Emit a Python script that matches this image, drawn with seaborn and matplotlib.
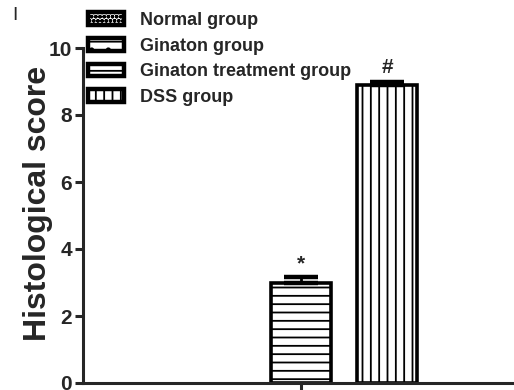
import matplotlib
matplotlib.use('Agg')
import matplotlib.pyplot as plt
import seaborn as sns
import pandas as pd

# ── Data ─────────────────────────────────────────────────────────────────────
groups = ['Normal group', 'Ginaton group', 'Ginaton treatment group', 'DSS group']
scores = [0.0, 0.0, 3.0, 8.9]
sem = [0.0, 0.0, 0.16, 0.1]
marks = ['', '', '*', '#']
hatches = ['oooo', '.-', '--', '||']
y_ticks = [0, 2, 4, 6, 8, 10]

df = pd.DataFrame({'cat': [''] * len(groups), 'Group': groups, 'Score': scores})

sns.set_style('ticks')
plt.rcParams['font.family'] = ['Liberation Sans', 'DejaVu Sans']
plt.rcParams['hatch.linewidth'] = 1.3
plt.rcParams['hatch.color'] = '#333333'

fig = plt.figure(figsize=(5.14, 3.90), dpi=100)
ax = fig.add_axes([83 / 514, 7 / 390, 1 - 83 / 514, 335 / 390])

sns.barplot(data=df, x='cat', y='Score', hue='Group', hue_order=groups,
            palette=['white'] * 4, edgecolor='black', linewidth=2.6,
            gap=0.3, errorbar=None, legend=True, ax=ax)

# hatches + error bars + significance marks
for cont, h, val, err, mk in zip(ax.containers, hatches, scores, sem, marks):
    for bar in cont:
        bar.set_hatch(h)
        cx = bar.get_x() + bar.get_width() / 2
        if val > 0:
            ax.errorbar(cx, val, yerr=[[0], [err]], fmt='none', ecolor='black',
                        elinewidth=2, capsize=12, capthick=3.2, zorder=3)
            ax.text(cx, val + err + 0.12, mk, ha='center', va='bottom',
                    fontsize=15, fontweight='bold')
        else:
            bar.set_visible(False)

# the single x tick sits under the treatment bar
tb = ax.containers[2][0]
ax.set_xticks([tb.get_x() + tb.get_width() / 2])
ax.set_xticklabels([''])
ax.set_xlim(-0.407, 0.595)

ax.set_ylim(0, 10)
ax.set_yticks(y_ticks)
ax.set_yticklabels([str(t) for t in y_ticks], fontsize=15, fontweight='bold')
ax.set_xlabel('')
ax.set_ylabel('Histological score', fontsize=23, fontweight='bold')
ax.yaxis.set_label_coords(-30 / 431, 0.535)

sns.despine(ax=ax)
for s in ['left', 'bottom']:
    ax.spines[s].set_linewidth(2.2)
ax.tick_params(axis='both', width=2.2, length=6, direction='out', pad=2)

leg = ax.legend(loc='upper left', bbox_to_anchor=(88 / 514, 1 - 12 / 390),
                bbox_transform=fig.transFigure, frameon=False,
                prop={'size': 13, 'weight': 'bold'}, handlelength=2.0,
                handleheight=0.7, labelspacing=0.48, handletextpad=0.9,
                borderpad=0, borderaxespad=0)
for p, h in zip(leg.get_patches(), hatches):
    p.set_linewidth(3.2)
    p.set_hatch(h)

fig.text(12 / 514, 1 - 16 / 390, 'I', fontsize=14, ha='left', va='center')

fig.savefig('out.png', dpi=100)
